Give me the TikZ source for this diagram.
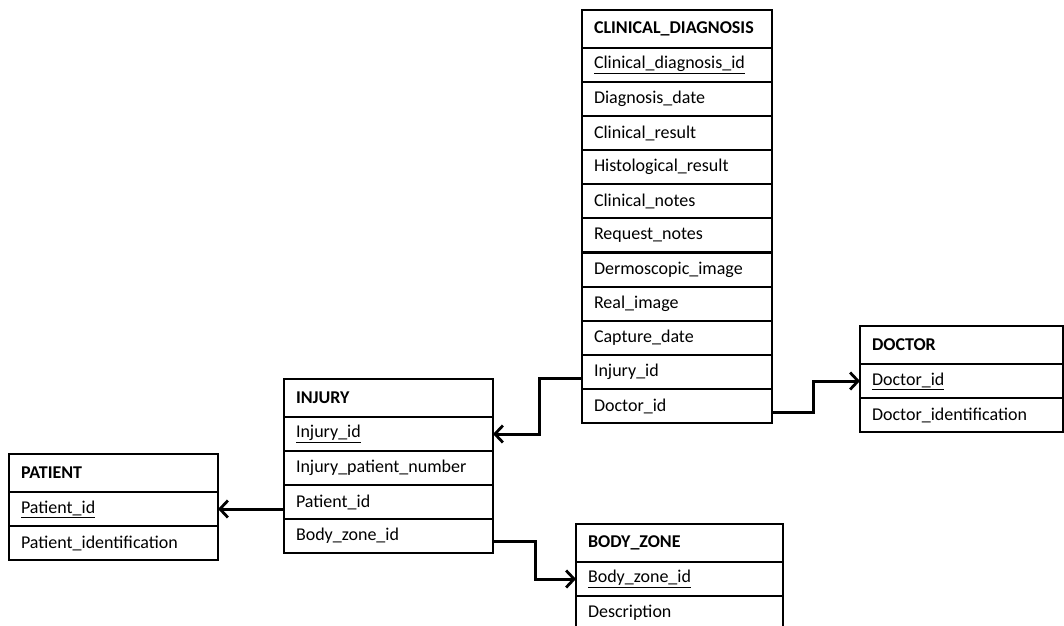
\documentclass[tikz,border=0pt]{standalone}
\usepackage{fontspec}
\setmainfont{Carlito}
\usetikzlibrary{arrows.meta}

\begin{document}
\begin{tikzpicture}[x=1pt,y=-1pt,
  cell/.style={draw=black, line width=1.3pt, inner xsep=12pt, inner ysep=0pt,
    outer sep=0pt, anchor=north west, minimum height=34pt, align=left,
    font=\fontsize{18}{20}\selectfont},
  hdr/.style={cell, minimum height=38pt, font=\fontsize{18}{20}\selectfont\bfseries},
  link/.style={draw=black, line width=3pt, -{Straight Barb[length=8pt,width=17pt,line width=2.8pt]}}
]
\useasboundingbox (0,0) rectangle (1064,625);
\clip (0,0) rectangle (1064,625);

% CLINICAL_DIAGNOSIS table
\def\cdw{166pt}
\node[hdr,  text width=\cdw] (cdh) at (582,10)  {CLINICAL\_DIAGNOSIS};
\node[cell, text width=\cdw] (cd1) at (582,48)  {\underline{Clinical\_diagnosis\_id}};
\node[cell, text width=\cdw] (cd2) at (582,82)  {Diagnosis\_date};
\node[cell, text width=\cdw] (cd3) at (582,116) {Clinical\_result};
\node[cell, text width=\cdw] (cd4) at (582,150) {Histological\_result};
\node[cell, text width=\cdw] (cd5) at (582,184) {Clinical\_notes};
\node[cell, text width=\cdw] (cd6) at (582,218) {Request\_notes};
\node[cell, text width=\cdw] (cd7) at (582,253) {Dermoscopic\_image};
\node[cell, text width=\cdw] (cd8) at (582,287) {Real\_image};
\node[cell, text width=\cdw] (cd9) at (582,321) {Capture\_date};
\node[cell, text width=\cdw] (cdinj) at (582,355) {Injury\_id};
\node[cell, text width=\cdw] (cddoc) at (582,389) {Doctor\_id};

% INJURY table
\def\injw{185pt}
\node[hdr,  text width=\injw] (injh)   at (284,379) {INJURY};
\node[cell, text width=\injw] (injid)  at (284,417) {\underline{Injury\_id}};
\node[cell, text width=\injw] (injnum) at (284,451) {Injury\_patient\_number};
\node[cell, text width=\injw] (injpat) at (284,485) {Patient\_id};
\node[cell, text width=\injw] (injbz)  at (284,519) {Body\_zone\_id};

% PATIENT table
\def\patw{185pt}
\node[hdr,  text width=\patw] (path)  at (9,454) {PATIENT};
\node[cell, text width=\patw] (patid) at (9,492) {\underline{Patient\_id}};
\node[cell, text width=\patw] (patdesc) at (9,526) {Patient\_identification};

% BODY_ZONE table
\def\bzw{183pt}
\node[hdr,  text width=\bzw] (bzh)   at (576,524) {BODY\_ZONE};
\node[cell, text width=\bzw] (bzid)  at (576,562) {\underline{Body\_zone\_id}};
\node[cell, text width=\bzw] (bzdesc) at (576,596) {Description};

% DOCTOR table
\def\docw{179pt}
\node[hdr,  text width=\docw] (doch)  at (860,326) {DOCTOR};
\node[cell, text width=\docw] (docid) at (860,364) {\underline{Doctor\_id}};
\node[cell, text width=\docw] (docdesc) at (860,398) {Doctor\_identification};

% relationships
\draw[link] ([yshift=-6pt]cdinj.west) -- ++(-43,0) |- (injid.east);
\draw[link] ([yshift=-6pt]cddoc.east) -- ++(41,0) |- (docid.west);
\draw[link] (injpat.west |- patid.east) -- (patid.east);
\draw[link] ([yshift=-5pt]injbz.east) -- ++(42,0) |- (bzid.west);
\end{tikzpicture}
\end{document}
